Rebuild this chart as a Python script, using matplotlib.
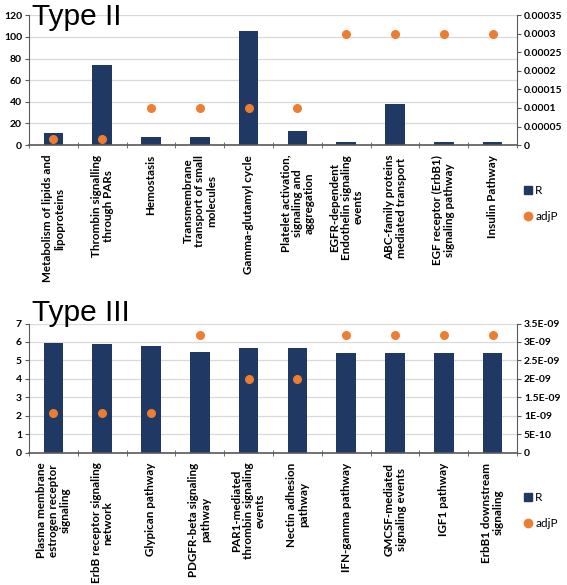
import numpy as np
import matplotlib.pyplot as plt
from matplotlib.lines import Line2D

plt.rcParams['font.family'] = ['Lato', 'DejaVu Sans']

# Type II
cats2 = ['Metabolism of lipids and\nlipoproteins', 'Thrombin signalling\nthrough PARs', 'Hemostasis',
         'Transmembrane\ntransport of small\nmolecules', 'Gamma-glutamyl cycle',
         'Platelet activation,\nsignaling and\naggregation', 'EGFR-dependent\nEndothelin signaling\nevents',
         'ABC-family proteins\nmediated transport', 'EGF receptor (ErbB1)\nsignaling pathway', 'Insulin Pathway']
r2 = [11, 74, 7.5, 7.5, 105, 13, 3, 38, 3, 3]
p2 = [1.7e-5, 1.7e-5, 1e-4, 1e-4, 1e-4, 1e-4, 3e-4, 3e-4, 3e-4, 3e-4]
yl2 = [0, 20, 40, 60, 80, 100, 120]
yr2 = [0, 0.00005, 0.0001, 0.00015, 0.0002, 0.00025, 0.0003, 0.00035]
yr2_lab = ['0', '0.00005', '0.0001', '0.00015', '0.0002', '0.00025', '0.0003', '0.00035']

# Type III
cats3 = ['Plasma membrane\nestrogen receptor\nsignaling', 'ErbB receptor signaling\nnetwork', 'Glypican pathway',
         'PDGFR-beta signaling\npathway', 'PAR1-mediated\nthrombin signaling\nevents', 'Nectin adhesion\npathway',
         'IFN-gamma pathway', 'GMCSF-mediated\nsignaling events', 'IGF1 pathway', 'ErbB1 downstream\nsignaling']
r3 = [5.92, 5.87, 5.77, 5.45, 5.65, 5.7, 5.4, 5.43, 5.43, 5.43]
p3 = [1.09e-9, 1.09e-9, 1.09e-9, 3.2e-9, 2e-9, 2e-9, 3.2e-9, 3.2e-9, 3.2e-9, 3.2e-9]
yl3 = [0, 1, 2, 3, 4, 5, 6, 7]
yr3 = [0, 5e-10, 1e-9, 1.5e-9, 2e-9, 2.5e-9, 3e-9, 3.5e-9]
yr3_lab = ['0', '5E-10', '1E-09', '1.5E-09', '2E-09', '2.5E-09', '3E-09', '3.5E-09']

navy = '#1f3864'
orange = '#ed7d31'
axcol = '#595959'

fig = plt.figure(figsize=(5.67, 5.85), dpi=100)


def panel(rect, cats, r, p, yl, yr, yr_lab, title, title_y):
    ax = fig.add_axes(rect)
    x = np.arange(len(cats))
    ax.bar(x, r, width=0.4, color=navy, zorder=2)
    ax.set_xlim(-0.5, len(cats) - 0.5)
    ax.set_ylim(yl[0], yl[-1])
    ax.set_yticks(yl)
    ax.set_yticklabels([str(v) for v in yl], fontsize=7.5, fontweight='bold')
    ax.yaxis.grid(True, color='#d9d9d9', lw=0.9, zorder=0)
    ax.set_axisbelow(True)
    ax.set_xticks(x)
    ax.set_xticklabels(cats, rotation=90, fontsize=8.4, fontweight='bold',
                       multialignment='center', linespacing=1.1)
    ax.tick_params(axis='x', length=0, pad=7)
    ax.set_xticks(np.arange(len(cats) + 1) - 0.5, minor=True)
    ax.tick_params(axis='x', which='minor', length=4, direction='inout', color=axcol)
    ax.tick_params(axis='y', length=3, color=axcol, pad=2)
    for s in ['top', 'right']:
        ax.spines[s].set_visible(False)
    ax.spines['left'].set_color(axcol)
    ax.spines['bottom'].set_color(axcol)
    ax.spines['bottom'].set_linewidth(1.2)

    ax2 = ax.twinx()
    ax2.scatter(x, p, s=30, color=orange, zorder=3)
    ax2.set_ylim(yr[0], yr[-1])
    ax2.set_yticks(yr)
    ax2.set_yticklabels(yr_lab, fontsize=7.5, fontweight='bold')
    ax2.tick_params(axis='y', length=3, color=axcol, pad=2)
    ax2.spines['top'].set_visible(False)
    ax2.spines['left'].set_visible(False)
    ax2.spines['bottom'].set_visible(False)
    ax2.spines['right'].set_color(axcol)

    ax2.text(0.006, title_y, title, transform=ax.transAxes, fontsize=21.5,
             family='Liberation Sans', va='baseline', ha='left', zorder=5)
    return ax


ax_top = panel([0.051, 0.752, 0.861, 0.222], cats2, r2, p2, yl2, yr2, yr2_lab, 'Type II', 0.923)
ax_bot = panel([0.051, 0.226, 0.861, 0.221], cats3, r3, p3, yl3, yr3, yr3_lab, 'Type III', 1.016)

handles = [Line2D([], [], marker='s', ls='', color=navy, markersize=6),
           Line2D([], [], marker='o', ls='', color=orange, markersize=6)]
for ycen in [0.652, 0.127]:
    fig.legend(handles, ['R', 'adjP'], loc='center left', bbox_to_anchor=(0.915, ycen),
               frameon=False, fontsize=8.5, handlelength=0.6, handletextpad=0.3,
               labelspacing=1.3, borderpad=0)

fig.savefig('out.png', dpi=100)
